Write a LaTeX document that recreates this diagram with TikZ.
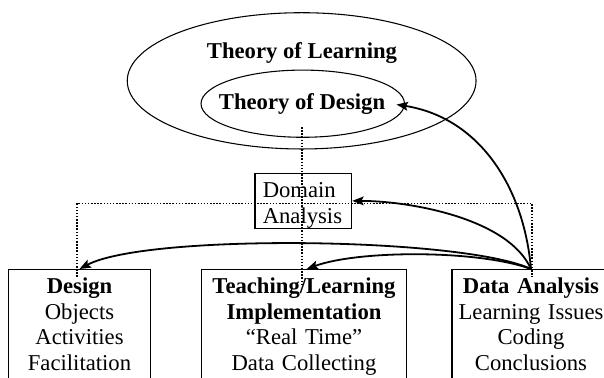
\documentclass[tikz,border=0pt]{standalone}
\usepackage{fontspec}
\setmainfont{Liberation Serif}
\usetikzlibrary{arrows.meta}
\newcommand\bigfont{\fontsize{17pt}{19.3pt}\selectfont}

\begin{document}
\begin{tikzpicture}[x=0.75pt, y=0.75pt,
    thin line/.style={line width=0.8pt},
    dots/.style={line width=1.15pt, dash pattern=on 1.15pt off 1.2pt},
    link/.style={line width=1.35pt, -{Stealth[length=8.5pt,width=6.5pt,inset=1.5pt]}},
    stage/.style={draw, line width=0.8pt, anchor=north, align=center, inner xsep=0pt,
      inner ysep=0pt, text height=18pt, text depth=90pt, font=\bigfont}]
          \useasboundingbox (0, 0) rectangle (604, 378);
          \clip (0, 0) rectangle (604, 378);

          % theories
          \draw [thin line] (301.65, 297.15) ellipse (130.8pt and 51.1pt);
          \node [font=\bigfont\bfseries, anchor=base] (tol) at (302, 319.7) {Theory of Learning};
          \draw [thin line] (302.75, 274.3) ellipse (76.3pt and 25.2pt);
          \node [font=\bigfont\bfseries, anchor=base] (tod) at (302, 268) {Theory of Design};

          \node [draw, thin line, anchor=north, align=left, text width=60.9pt, inner xsep=5.8pt,
            inner ysep=0pt, text height=18.5pt, text depth=23pt, font=\bigfont]
            (domain) at (303.35, 205.3) {Domain\\Analysis};

          % stages
          \node [stage, text width=106.8pt] (design) at (79.5, 109)
            {\textbf{Design}\\Objects\\Activities\\Facilitation};
          \node [stage, text width=153.7pt] (teach) at (304, 109)
            {\textbf{Teaching/Learning}\\\textbf{Implementation}\\“Real Time”\\Data Collecting};
          \node [stage, text width=118.5pt] (data) at (531, 109)
            {\textbf{Data Analysis}\\Learning Issues\\Coding\\Conclusions};

          \draw [dots] ([yshift=-5.5pt]tod.south) -- ([yshift=-12pt]tod.south |- teach.north);
          \draw [dots] ([xshift=-2pt,yshift=-6pt]design.north) |- ([yshift=-1.9pt]domain.east)
            -| ([xshift=0.75pt,yshift=-6pt]data.north);

          \draw [link] (data.north) to [out=95, in=-9, looseness=1] ([xshift=5pt]tod.east);
          \draw [link] (data.north) to [out=114, in=0, looseness=0.75] (domain.east);
          \draw [link] (data.north) to [out=160, in=20, looseness=0.64] ([xshift=2pt]teach.north);
          \draw [link] (data.north) to [out=155, in=28, looseness=0.43] (design.north);
        \end{tikzpicture}
\end{document}
